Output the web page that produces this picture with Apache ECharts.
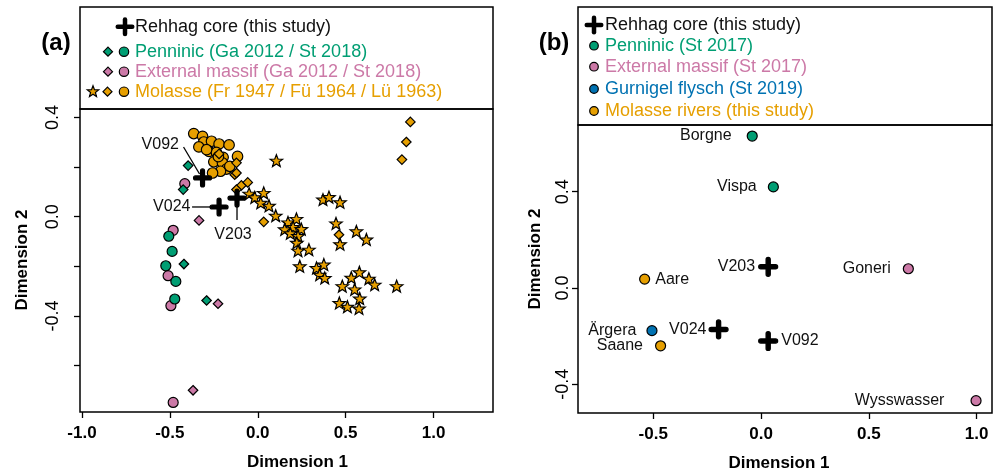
<!DOCTYPE html>
<html><head><meta charset="utf-8">
<script src="https://cdn.jsdelivr.net/npm/echarts@6/dist/echarts.min.js"></script>
<style>html,body{margin:0;padding:0;background:#fff}#c{width:996px;height:474px}</style>
</head><body><div id="c"></div>
<script>
// ---------- DATA: panel (a) ----------
const molasseCircleA = [[-0.364,0.335],[-0.314,0.324],[-0.307,0.301],[-0.263,0.304],[-0.220,0.293],[-0.163,0.289],[-0.335,0.281],[-0.277,0.263],[-0.235,0.259],[-0.197,0.239],[-0.115,0.243],[-0.250,0.221],[-0.201,0.217],[-0.178,0.192],[-0.212,0.183],[-0.257,0.176],[-0.291,0.270],[-0.159,0.203],[-0.224,0.242]];
const molasseDiamondA = [[-0.220,0.253],[-0.121,0.217],[-0.131,0.169],[-0.121,0.176],[-0.093,0.126],[-0.057,0.138],[-0.121,0.109],[0.034,-0.021],[0.462,-0.073],[0.820,0.230],[0.845,0.301],[0.868,0.382]];
const molasseStarA = [[0.106,0.226],[-0.049,0.093],[-0.017,0.078],[0.034,0.096],[0.017,0.056],[0.064,0.044],[0.102,0.004],[0.371,0.069],[0.405,0.079],[0.468,0.058],[0.172,-0.023],[0.220,-0.009],[0.153,-0.051],[0.201,-0.042],[0.248,-0.050],[0.185,-0.067],[0.229,-0.078],[0.222,-0.105],[0.229,-0.137],[0.291,-0.133],[0.445,-0.027],[0.468,-0.111],[0.561,-0.059],[0.618,-0.092],[0.239,-0.200],[0.334,-0.207],[0.376,-0.193],[0.352,-0.234],[0.381,-0.247],[0.481,-0.280],[0.532,-0.246],[0.578,-0.224],[0.551,-0.293],[0.632,-0.250],[0.665,-0.274],[0.580,-0.330],[0.464,-0.348],[0.510,-0.363],[0.576,-0.370],[0.790,-0.280]];
const penninicCircleA = [[-0.506,-0.079],[-0.487,-0.140],[-0.523,-0.198],[-0.466,-0.261],[-0.472,-0.332]];
const penninicDiamondA = [[-0.396,0.206],[-0.424,0.109],[-0.420,-0.191],[-0.291,-0.338]];
const externalCircleA = [[-0.415,0.133],[-0.481,-0.055],[-0.510,-0.238],[-0.494,-0.359],[-0.481,-0.749]];
const externalDiamondA = [[-0.334,-0.015],[-0.226,-0.351],[-0.368,-0.700]];
const rehhagA = [['V092',-0.314,0.156],['V024',-0.220,0.039],['V203',-0.118,0.075]];

// ---------- DATA: panel (b) ----------
const rehhagB = [['V203',0.033,0.088],['V024',-0.197,-0.172],['V092',0.033,-0.220]];
const penninicB = [['Borgne',-0.041,0.631],['Vispa',0.057,0.420]];
const externalB = [['Goneri',0.683,0.080],['Wysswasser',0.997,-0.468]];
const gurnigelB = [['Ärgera',-0.506,-0.177]];
const molasseB = [['Aare',-0.540,0.037],['Saane',-0.466,-0.240]];

// ---------- ticks ----------
const xTicksA = [-1.0,-0.5,0.0,0.5,1.0];
const yTicksA = [-0.6,-0.4,-0.2,0.0,0.2,0.4];
const yLabelsA = [-0.4,0.0,0.4];
const xTicksB = [-0.5,0.0,0.5,1.0];
const yTicksB = [-0.4,0.0,0.4];

// ---------- legend texts ----------
const legendA = ['Rehhag core (this study)','Penninic (Ga 2012 / St 2018)','External massif (Ga 2012 / St 2018)','Molasse (Fr 1947 / Fü 1964 / Lü 1963)'];
const legendB = ['Rehhag core (this study)','Penninic (St 2017)','External massif (St 2017)','Gurnigel flysch (St 2019)','Molasse rivers (this study)'];

// ---------- styles ----------
const COL = {pen:'#009E73', ext:'#CC79A7', gur:'#0072B2', mol:'#E69F00', blk:'#000'};
const FONT = '"Liberation Sans", Arial, sans-serif';
const STAR = 'path://M10,0L12.469,6.602L19.511,6.910L13.994,11.298L15.878,18.090L10,14.2L4.122,18.090L6.006,11.298L0.489,6.910L7.531,6.602Z';
const CROSS = 'path://M7,2A2,2 0 0 1 11,2V7H16A2,2 0 0 1 16,11H11V16A2,2 0 0 1 7,16V11H2A2,2 0 0 1 2,7H7Z';

// label placement (pixel offsets) for panel (a), with leader line offsets [x1,y1,x2,y2] relative to the mark
const labelPlaceA = {
  V092: {position:'left', distance:5, offset:[-9,-33], leader:[-19,-31,-3,-4]},
  V024: {position:'left', distance:19, offset:[0,0], leader:[-27,0,-6,0]},
  V203: {position:'bottom', distance:5, offset:[-4,14], leader:[0,7,0,22]}
};
const labelPlaceB = {
  V203:{position:'left', distance:3}, V024:{position:'left', distance:2}, V092:{position:'right', distance:3},
  Borgne:{position:'left', distance:15}, Vispa:{position:'left', distance:11},
  Goneri:{position:'left', distance:12}, Wysswasser:{position:'left', distance:26},
  'Ärgera':{position:'left', distance:10}, Aare:{position:'right', distance:5}, Saane:{position:'left', distance:12}
};

function sc(data, gi, symbol, size, color, extra) {
  return Object.assign({
    type:'scatter', xAxisIndex:gi, yAxisIndex:gi, data, symbol, symbolSize:size, symbolKeepAspect:true,
    itemStyle:{color, borderColor:'#000', borderWidth:1.2, opacity:1},
    emphasis:{disabled:true}, silent:true, animation:false
  }, extra||{});
}
function labeled(arr, gi, symbol, size, color, place) {
  const data = arr.map(([n,x,y]) => ({name:n, value:[x,y],
    label:{show:true, position:place[n].position, distance:place[n].distance, offset:place[n].offset||[0,0]}}));
  return sc(data, gi, symbol, size, color, {
    label:{show:true, formatter:'{b}', color:'#111', fontFamily:FONT, fontSize:16}
  });
}
function leaders(arr, gi, place) {
  return {
    type:'custom', xAxisIndex:gi, yAxisIndex:gi, silent:true, animation:false, z:1,
    data: arr.map(([n,x,y]) => [x,y]),
    encode:{x:0, y:1},
    renderItem:(params, api) => {
      const p = api.coord([api.value(0), api.value(1)]);
      const o = place[arr[params.dataIndex][0]].leader;
      return {type:'line', shape:{x1:p[0]+o[0], y1:p[1]+o[1], x2:p[0]+o[2], y2:p[1]+o[3]}, style:{stroke:'#000', lineWidth:1.3}};
    }
  };
}

const axisTickStyle = {color:'#000', width:1.3};
function xAxisDef(gi, min, max, ticks) {
  return {gridIndex:gi, type:'value', min, max, axisLine:{show:false, onZero:false}, splitLine:{show:false},
    axisTick:{show:true, length:6, lineStyle:axisTickStyle, customValues:ticks},
    axisLabel:{customValues:ticks, formatter:v=>v.toFixed(1), color:'#000', fontFamily:FONT, fontSize:17, fontWeight:'bold', margin:13}};
}
function yAxisDef(gi, min, max, ticks, labels, margin) {
  return {gridIndex:gi, type:'value', min, max, axisLine:{show:false, onZero:false}, splitLine:{show:false},
    axisTick:{show:true, length:6, lineStyle:axisTickStyle, customValues:ticks},
    axisLabel:{customValues:labels, formatter:v=>v.toFixed(1), rotate:90, color:'#000', fontFamily:FONT, fontSize:18, margin}};
}

// legend graphic helpers
const KS = {stroke:'#000', lineWidth:1.2};
function gCircle(x,y,r,c){return {type:'circle', shape:{cx:x,cy:y,r}, style:Object.assign({fill:c},KS)};}
function gDiamond(x,y,h,c){return {type:'polygon', shape:{points:[[x,y-h],[x+h,y],[x,y+h],[x-h,y]]}, style:Object.assign({fill:c},KS)};}
function gStar(x,y,R,c){const pts=[];for(let i=0;i<10;i++){const a=-Math.PI/2+i*Math.PI/5;const r=i%2?R*0.42:R;pts.push([x+r*Math.cos(a),y+r*Math.sin(a)]);}return {type:'polygon', shape:{points:pts}, style:Object.assign({fill:c},KS)};}
function gCross(x,y,s,t){return [
  {type:'rect', shape:{x:x-s/2,y:y-t/2,width:s,height:t,r:t/2}, style:{fill:'#000'}},
  {type:'rect', shape:{x:x-t/2,y:y-s/2,width:t,height:s,r:t/2}, style:{fill:'#000'}}];}
function gText(x,y,txt,c,opts){return {type:'text', x, y, rotation:(opts&&opts.rot)||0, style:{text:txt, fill:c, font:(opts&&opts.font)||('18px '+FONT), align:(opts&&opts.align)||'left', verticalAlign:'middle'}};}

const rowsA = [26.7, 51.7, 71.7, 91.7];
const rowsB = [25, 45.7, 66.7, 89, 111];
const graphics = [
  {type:'rect', shape:{x:80,y:7,width:413,height:102}, style:{fill:'none', stroke:'#000', lineWidth:1.5}},
  {type:'rect', shape:{x:578,y:7,width:414,height:118}, style:{fill:'none', stroke:'#000', lineWidth:1.5}},
  ...gCross(125, rowsA[0], 19, 4.5),
  gDiamond(108, rowsA[1], 4.5, COL.pen), gCircle(124, rowsA[1], 4.7, COL.pen),
  gDiamond(108, rowsA[2], 4.5, COL.ext), gCircle(124, rowsA[2], 4.7, COL.ext),
  gStar(93, rowsA[3], 6, COL.mol), gDiamond(107.5, rowsA[3], 4.5, COL.mol), gCircle(124, rowsA[3], 4.7, COL.mol),
  gText(135, rowsA[0], legendA[0], '#111'), gText(135, rowsA[1], legendA[1], COL.pen),
  gText(135, rowsA[2], legendA[2], COL.ext), gText(135, rowsA[3], legendA[3], COL.mol),
  ...gCross(594, rowsB[0], 19, 4.5),
  gCircle(594, rowsB[1], 4.3, COL.pen), gCircle(594, rowsB[2], 4.3, COL.ext),
  gCircle(594, rowsB[3], 4.3, COL.gur), gCircle(594, rowsB[4], 4.3, COL.mol),
  gText(605, rowsB[0], legendB[0], '#111'), gText(605, rowsB[1], legendB[1], COL.pen),
  gText(605, rowsB[2], legendB[2], COL.ext), gText(605, rowsB[3], legendB[3], COL.gur),
  gText(605, rowsB[4], legendB[4], COL.mol),
  gText(56, 43, '(a)', '#000', {font:'bold 24px '+FONT, align:'center'}),
  gText(554, 43, '(b)', '#000', {font:'bold 24px '+FONT, align:'center'}),
  gText(297.5, 462, 'Dimension 1', '#000', {font:'bold 17px '+FONT, align:'center'}),
  gText(779, 463, 'Dimension 1', '#000', {font:'bold 17px '+FONT, align:'center'}),
  gText(22, 260, 'Dimension 2', '#000', {font:'bold 17px '+FONT, align:'center', rot:Math.PI/2}),
  gText(535, 259, 'Dimension 2', '#000', {font:'bold 17px '+FONT, align:'center', rot:Math.PI/2})
];

const option = {
  backgroundColor:'#fff',
  animation:false,
  grid:[
    {left:80, top:109, width:413, height:303, show:true, borderColor:'#000', borderWidth:1.5, backgroundColor:'transparent'},
    {left:578, top:125, width:414, height:288, show:true, borderColor:'#000', borderWidth:1.5, backgroundColor:'transparent'}
  ],
  xAxis:[xAxisDef(0,-1.011,1.338,xTicksA), xAxisDef(1,-0.849,1.071,xTicksB)],
  yAxis:[yAxisDef(0,-0.7875,0.434,yTicksA,yLabelsA,18), yAxisDef(1,-0.519,0.677,yTicksB,yTicksB,6)],
  series:[
    sc(externalCircleA,0,'circle',10,COL.ext),
    sc(externalDiamondA,0,'diamond',9.5,COL.ext),
    sc(penninicCircleA,0,'circle',10,COL.pen),
    sc(penninicDiamondA,0,'diamond',9.5,COL.pen),
    sc(molasseCircleA,0,'circle',10.5,COL.mol),
    sc(molasseDiamondA,0,'diamond',9.5,COL.mol),
    sc(molasseStarA,0,STAR,12.5,COL.mol),
    leaders(rehhagA,0,labelPlaceA),
    labeled(rehhagA,0,CROSS,18,'#000',labelPlaceA),
    labeled(penninicB,1,'circle',10,COL.pen,labelPlaceB),
    labeled(externalB,1,'circle',10,COL.ext,labelPlaceB),
    labeled(gurnigelB,1,'circle',10,COL.gur,labelPlaceB),
    labeled(molasseB,1,'circle',10,COL.mol,labelPlaceB),
    labeled(rehhagB,1,CROSS,19,'#000',labelPlaceB)
  ],
  graphic:graphics
};
const chart = echarts.init(document.getElementById('c'), null, {renderer:'canvas'});
chart.setOption(option);
</script></body></html>
